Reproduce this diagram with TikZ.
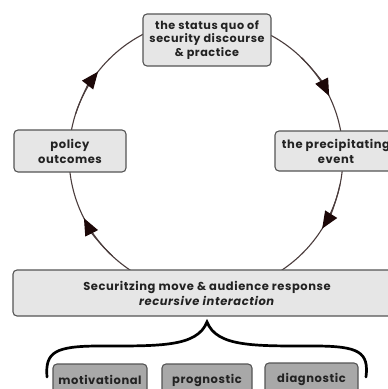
\documentclass[tikz,border=0pt]{standalone}
\usepackage{fontspec}
\setmainfont{Poppins}[LetterSpace=5]
\usetikzlibrary{arrows.meta}
\definecolor{boxfill}{HTML}{E6E6E6}
\definecolor{boxline}{HTML}{555555}
\definecolor{darkfill}{HTML}{A8A8A8}
\definecolor{ringc}{HTML}{4A3C3C}
\definecolor{tipc}{HTML}{1C0808}
\definecolor{txt}{HTML}{222222}
\begin{document}
\begin{tikzpicture}[x=1pt,y=-1pt,
  lbox/.style={draw=boxline, fill=boxfill, line width=1.1pt, rounded corners=4pt, text=txt,
    font=\bfseries\fontsize{11.5}{15}\selectfont, align=center, inner sep=0pt},
  sqbox/.style={lbox, font=\bfseries\fontsize{11.2}{13.3}\selectfont},
  dbox/.style={lbox, fill=darkfill},
  ring/.style={draw=ringc, line width=1.1pt},
  tipped/.style={ring, -{Triangle[length=17pt,width=14pt,color=tipc]}},
  brace/.style={draw=black, line width=2.7pt, line cap=round}]
\useasboundingbox (0,0) rectangle (388,389);
\fill[white] (0,0) rectangle (388,389);
\coordinate (c) at (206,156);
\draw[ring] (c) circle[radius=137];
\foreach \t in {-142,-26,32,153}{
  \draw[tipped] (c) ++(\t-20:137) arc[start angle=\t-20, end angle=\t, radius=137];
}
\node[sqbox, minimum width=128pt, minimum height=52pt] (sq) at (207,40) {the status quo of\\security discourse\\\& practice};
\node[lbox, minimum width=112pt, minimum height=42pt] (po) at (70,151) {policy\\outcomes};
\node[lbox, minimum width=122pt, minimum height=40pt] (pe) at (336,151) {the precipitating\\event};
\node[lbox, minimum width=388pt, minimum height=46pt] (sm) at (207,293) {Securitzing move \& audience response\\\textit{recursive interaction}};
\draw[brace] (47,377) .. controls (45,352) and (55,346) .. (100,346)
  .. controls (160,346) and (197,347) .. (207,322)
  .. controls (217,347) and (254,346) .. (314,346)
  .. controls (359,346) and (369,352) .. (366,377);
\node[dbox, minimum width=94pt, minimum height=32pt] (mo) at (100,380) {motivational};
\node[dbox, minimum width=90pt, minimum height=32pt] (pr) at (207,380) {prognostic};
\node[dbox, minimum width=93pt, minimum height=32pt] (di) at (311.5,379) {diagnostic};
\end{tikzpicture}
\end{document}
